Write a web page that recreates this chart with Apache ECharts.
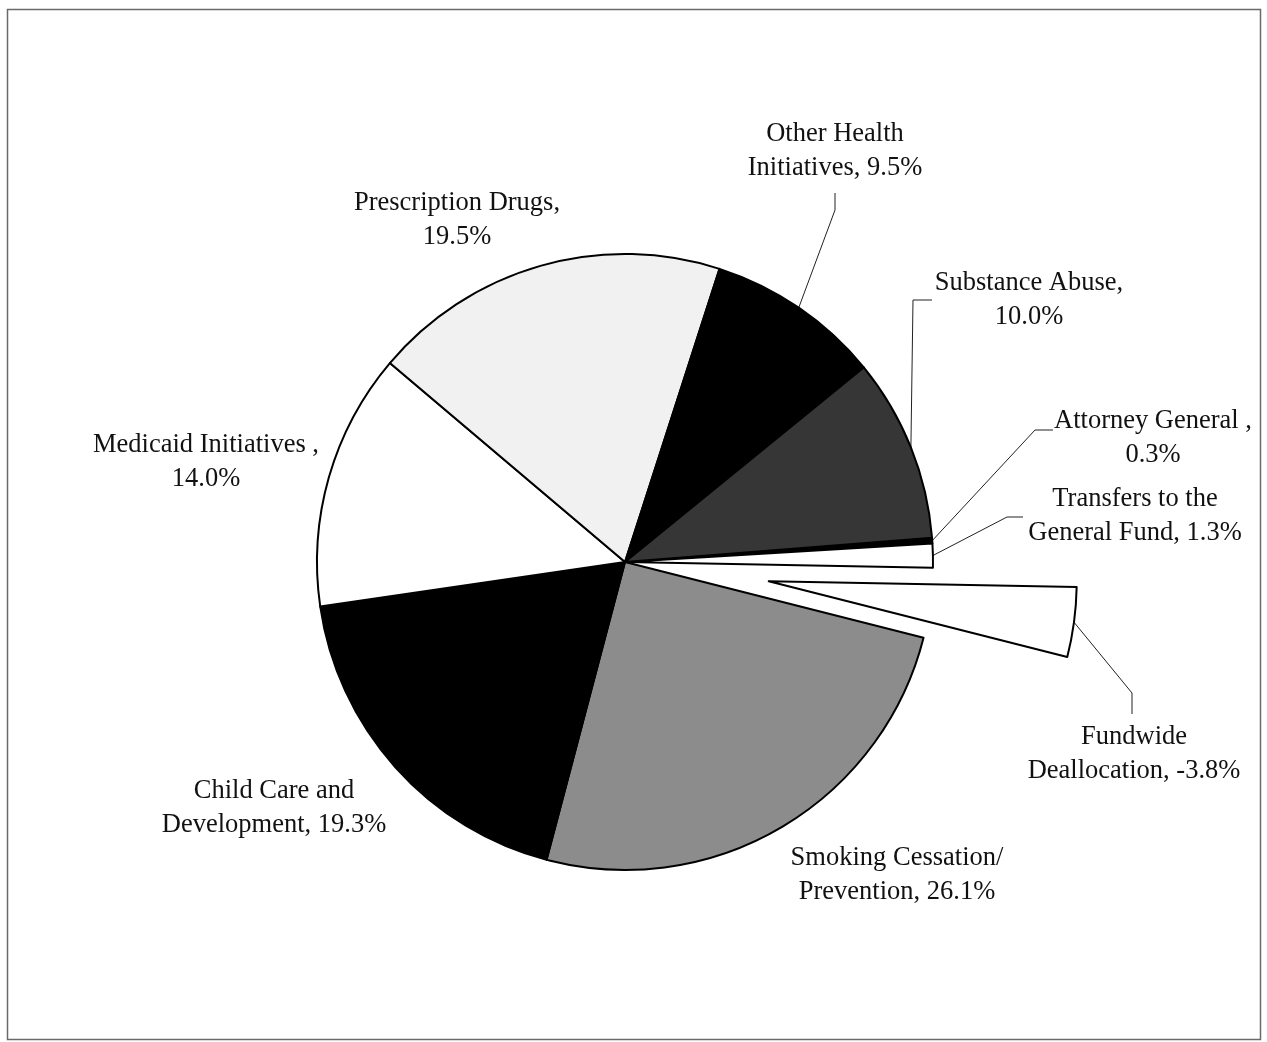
<!DOCTYPE html>
<html>
<head>
<meta charset="utf-8">
<script src="https://cdn.jsdelivr.net/npm/echarts@6/dist/echarts.min.js"></script>
<style>
html,body{margin:0;padding:0;background:#fff;}
#chart{width:1267px;height:1042px;}
</style>
</head>
<body>
<div id="chart"></div>
<script>
// ---- data ----
const categories = [
  'Attorney General ',
  'Transfers to the\nGeneral Fund',
  'Fundwide\nDeallocation',
  'Smoking Cessation/\nPrevention',
  'Child Care and\nDevelopment',
  'Medicaid Initiatives ',
  'Prescription Drugs',
  'Other Health\nInitiatives',
  'Substance Abuse'
];
const shares = [0.3, 1.3, -3.8, 26.1, 19.3, 14.0, 19.5, 9.5, 10.0];
const exploded = [false, false, true, false, false, false, false, false, false];

// ---- styles / layout (kept apart from data) ----
const fills = ['#000000', '#ffffff', '#ffffff', '#8c8c8c', '#000000', '#ffffff', '#f1f1f1', '#000000', '#363636'];
const labelCenters = [[1153,438],[1135,516],[1134,754],[897,875],[274,808],[206,462],[457,220],[835,151],[1029,300]];
const leaderElbows = [
  [[1035,430],[1053,430]],
  [[1007,517],[1023,517]],
  [[1132,693],[1132,714]],
  null, null, null, null,
  [[835,210],[835,193]],
  [[913,300],[932,300]]
];
const CX = 625, CY = 562, R = 308, START = 4.5, EXPLODE = 145;

// offset of the exploded slice, derived from the data
const values = shares.map(v => Math.abs(v));
const total = values.reduce((a, b) => a + b, 0);
function midAngleDeg(idx) {
  let before = 0;
  for (let k = 0; k < idx; k++) before += values[k];
  return START - (before + values[idx] / 2) / total * 360;
}
const exIdx = exploded.indexOf(true);
const exRad = midAngleDeg(exIdx) * Math.PI / 180;
const exCenter = [CX + EXPLODE * Math.cos(exRad), CY - EXPLODE * Math.sin(exRad)];

const chart = echarts.init(document.getElementById('chart'), null, {renderer: 'canvas'});

function makeData(forExploded) {
  return categories.map((name, i) => {
    const visible = exploded[i] === forExploded;
    if (!visible) {
      return {
        name: name, value: values[i], share: shares[i],
        itemStyle: {color: 'rgba(0,0,0,0)', borderWidth: 0},
        label: {show: false}, labelLine: {show: false}
      };
    }
    return {
      name: name, value: values[i], share: shares[i],
      itemStyle: {color: fills[i]},
      labelLine: {show: leaderElbows[i] !== null}
    };
  });
}

function labelLayout(params) {
  const i = params.dataIndex;
  const c = labelCenters[i];
  const out = {x: c[0], y: c[1], align: 'center', verticalAlign: 'middle'};
  const elbow = leaderElbows[i];
  if (elbow && params.labelLinePoints) {
    out.labelLinePoints = [params.labelLinePoints[0], elbow[0], elbow[1]];
  }
  return out;
}

const baseSeries = {
  type: 'pie',
  radius: R,
  startAngle: START,
  clockwise: true,
  minAngle: 0,
  avoidLabelOverlap: false,
  selectedMode: false,
  silent: true,
  emphasis: {disabled: true},
  itemStyle: {borderColor: '#000', borderWidth: 2},
  label: {
    show: true,
    position: 'outside',
    fontFamily: 'Liberation Serif',
    fontSize: 26.5,
    lineHeight: 34,
    color: '#111',
    align: 'center',
    formatter: function (p) {
      const v = p.data.share.toFixed(1) + '%';
      return p.name.indexOf('\n') >= 0 ? p.name + ', ' + v : p.name + ',\n' + v;
    }
  },
  labelLine: {show: true, length: 20, length2: 20, smooth: false, lineStyle: {color: '#222', width: 1}},
  labelLayout: labelLayout
};

const option = {
  backgroundColor: '#ffffff',
  animation: false,
  graphic: [{
    type: 'rect',
    shape: {x: 7.5, y: 9.5, width: 1253, height: 1030},
    style: {fill: 'none', stroke: '#6a6a6a', lineWidth: 1.5},
    silent: true,
    z: -10
  }],
  series: [
    Object.assign({}, baseSeries, {center: [CX, CY], data: makeData(false)}),
    Object.assign({}, baseSeries, {center: exCenter, data: makeData(true)})
  ]
};
chart.setOption(option);
</script>
</body>
</html>
